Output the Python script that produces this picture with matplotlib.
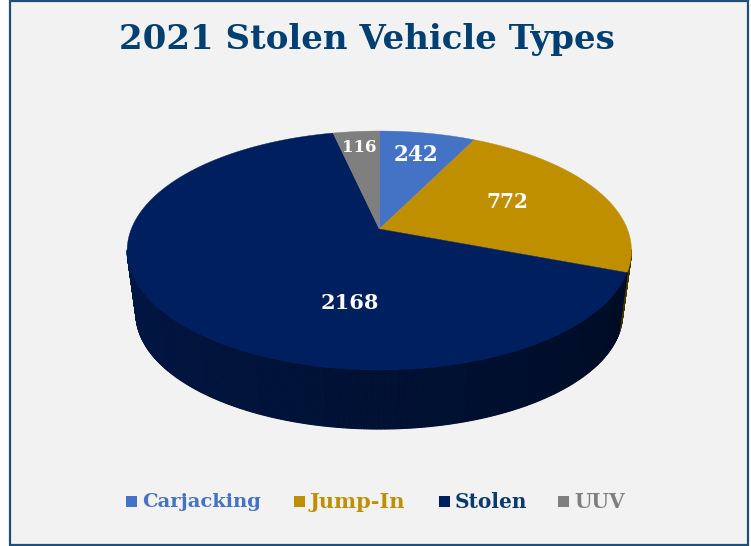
import numpy as np
import matplotlib
matplotlib.use("Agg")
import matplotlib.pyplot as plt
from matplotlib.colors import to_rgb
from matplotlib.patches import Rectangle

categories = ["Carjacking", "Jump-In", "Stolen", "UUV"]
values = [242, 772, 2168, 116]
colors = ["#4472C4", "#BF8F00", "#001F5F", "#7F7F7F"]
text_colors = ["#4472C4", "#BF8F00", "#0A3A6E", "#7F7F7F"]
title = "2021 Stolen Vehicle Types"

W, H = 751, 546
plt.rcParams["font.family"] = ["DejaVu Serif"]
fig = plt.figure(figsize=(W / 100, H / 100), dpi=100, facecolor="white")
ax = fig.add_axes([0, 0, 1, 1])
ax.set_xlim(0, W)
ax.set_ylim(H, 0)
ax.axis("off")

ax.add_patch(Rectangle((9.5, 0.8), 738.5, 544.2, fc="#F2F2F2", ec="#1F4E79", lw=1.6, zorder=0))

cx, vy, R, Rv, k = 379.3, 229, 248, 115.6, 0.18
base_f, base_vy = 0.965, 293
frac = np.array(values) / sum(values)
edges = np.concatenate([[0], np.cumsum(frac)]) * 2 * np.pi  # clockwise from 12 o'clock


def project(a, f=1.0, y0=vy):
    X, Y = np.sin(a), np.cos(a)
    s = 1 / (1 + k * Y)
    return cx + f * R * X * s, y0 - f * Rv * Y * s


# side wall: painted back to front, dark to the right, lighter to the left
ang = np.linspace(np.radians(100), np.radians(260), 321)
mids = (ang[:-1] + ang[1:]) / 2
for i in np.argsort(-np.cos(mids)):
    a0, a1, mid = ang[i], ang[i + 1], mids[i]
    seg = min(np.searchsorted(edges, mid) - 1, len(colors) - 1)
    t = np.clip((mid - np.pi / 2) / np.pi, 0, 1)  # 0 right, 1 left
    shade = 0.33 + 0.42 * t
    col = np.array(to_rgb(colors[seg])) * shade
    x0, y0 = project(a0)
    x1, y1 = project(a1)
    x2, y2 = project(a1, base_f, base_vy)
    x3, y3 = project(a0, base_f, base_vy)
    ax.fill([x0, x1, x2, x3], [y0, y1, y2, y3], fc=col, ec=col, lw=0.8, zorder=1)

# top face
for i, c in enumerate(colors):
    a = np.linspace(edges[i], edges[i + 1], 300)
    xs, ys = project(a)
    ax.fill(np.r_[cx, xs], np.r_[vy, ys], fc=c, ec=c, lw=0.3, zorder=2)

# value labels
label_pos = [(416, 155), (507.5, 202), (350, 303), (359.5, 147)]
label_size = [15.5, 14.5, 15, 12]
for v, (x, y), s in zip(values, label_pos, label_size):
    ax.text(x, y, str(v), color="white", fontsize=s, fontweight="bold",
            ha="center", va="center", zorder=3)

ax.text(366.5, 39, title, color="#003F72", fontsize=24.5, fontweight="bold",
        ha="center", va="center", zorder=3)

# legend
leg_sw = [126, 294, 439, 558]
leg_size = [14, 15, 14.5, 14.5]
for c, tc, name, x, s in zip(colors, text_colors, categories, leg_sw, leg_size):
    ax.add_patch(Rectangle((x, 496), 11, 11, fc=c, ec="none", zorder=3))
    ax.text(x + 16, 502, name, color=tc, fontsize=s, fontweight="bold",
            ha="left", va="center", zorder=3)

fig.savefig("out.png", dpi=100)
